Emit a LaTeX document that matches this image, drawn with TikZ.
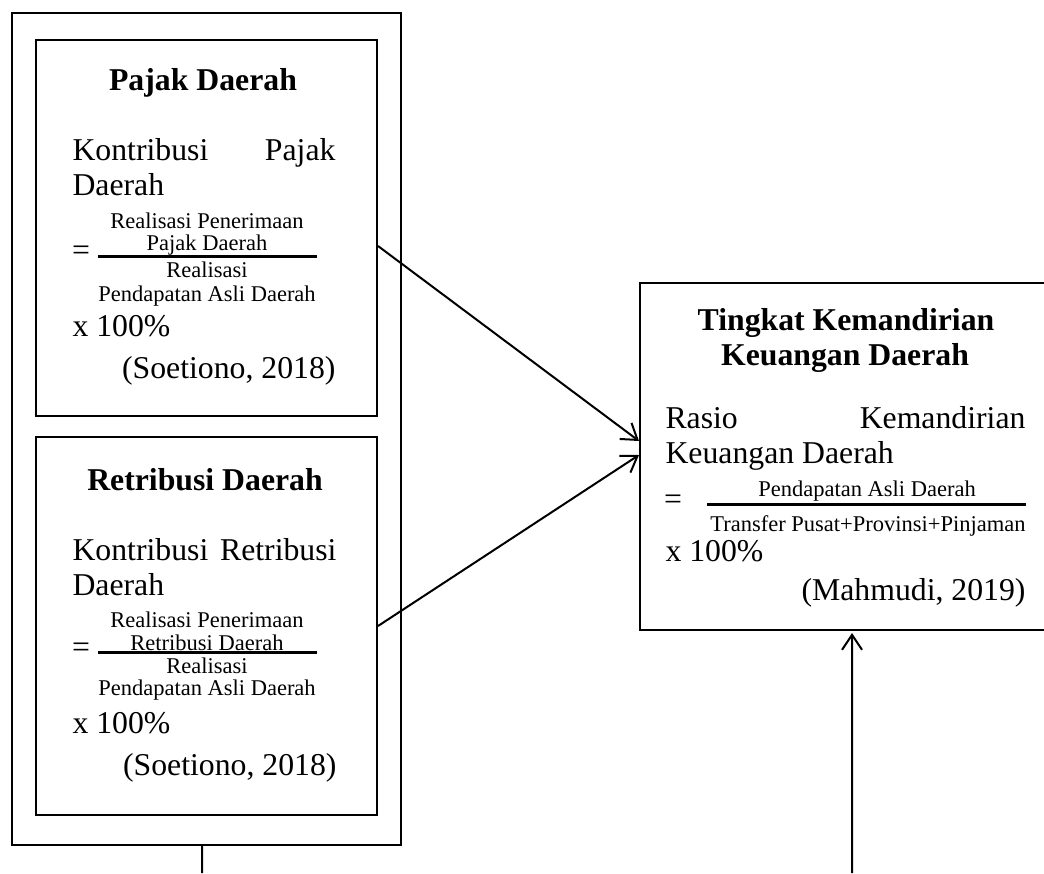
\documentclass[tikz,border=0pt]{standalone}
\usepackage{fontspec}
\setmainfont{Liberation Serif}
\usetikzlibrary{arrows.meta}
\begin{document}
\begin{tikzpicture}[x=0.4pt,y=-0.4pt,
  box/.style={draw,line width=0.8pt,inner sep=0pt},
  big/.style={font=\fontsize{12.7}{15}\selectfont,inner sep=0pt,text height=0.68em,text depth=0pt},
  ttl/.style={font=\fontsize{12.7}{15}\selectfont\bfseries,inner sep=0pt,text height=0.68em,text depth=0pt},
  sm/.style={font=\fontsize{9}{10}\selectfont,inner sep=0pt,text height=0.68em,text depth=0pt},
  bar/.style={line width=1.2pt},
  conn/.style={line width=0.8pt,-{Straight Barb[length=6pt,width=8pt,line width=0.8pt]}},
  plain/.style={line width=0.8pt}]
\useasboundingbox (0,0) rectangle (1044,873);

% boxes
\node[box,minimum width=155.6pt,minimum height=332.8pt] (outer) at (206.5,429) {};
\node[box,minimum width=136.4pt,minimum height=150.4pt] (pajak) at (206.5,228) {};
\node[box,minimum width=136.4pt,minimum height=151.2pt] (retri) at (206.5,626) {};
\node[box,minimum width=162pt,minimum height=138.8pt] (kd) at (842.5,456.5) {};

% Pajak Daerah
\node[ttl] (p1) at (203,82) {Pajak Daerah};
\node[big,anchor=west] (p2) at (72,152) {Kontribusi};
\node[big,anchor=east] (p3) at (336,152) {Pajak};
\node[big,anchor=west] (p4) at (72,187) {Daerah};
\node[sm] (p5) at (207,220) {Realisasi Penerimaan};
\node[sm] (p6) at (207,242) {Pajak Daerah};
\coordinate (pb1) at (98,256); \coordinate (pb2) at (317,256);
\draw[bar] (pb1) -- (pb2);
\node[big] (p7) at (81,252) {=};
\node[sm] (p8) at (207,269) {Realisasi};
\node[sm] (p9) at (207,293) {Pendapatan Asli Daerah};
\node[big,anchor=west] (p10) at (72,328) {x 100\%};
\node[big,anchor=east] (p11) at (336,370) {(Soetiono, 2018)};

% Retribusi Daerah
\node[ttl] (r1) at (205,482) {Retribusi Daerah};
\node[big,anchor=west] (r2) at (72,552) {Kontribusi};
\node[big,anchor=east] (r3) at (337,552) {Retribusi};
\node[big,anchor=west] (r4) at (72,587) {Daerah};
\node[sm] (r5) at (207,619) {Realisasi Penerimaan};
\node[sm] (r6) at (207,642) {Retribusi Daerah};
\coordinate (rb1) at (98,652); \coordinate (rb2) at (317,652);
\draw[bar] (rb1) -- (rb2);
\node[big] (r7) at (81,649) {=};
\node[sm] (r8) at (207,665) {Realisasi};
\node[sm] (r9) at (207,687) {Pendapatan Asli Daerah};
\node[big,anchor=west] (r10) at (72,725) {x 100\%};
\node[big,anchor=east] (r11) at (337,767) {(Soetiono, 2018)};

% Tingkat Kemandirian
\node[ttl] (k1) at (846,322) {Tingkat Kemandirian};
\node[ttl] (k2) at (845,357) {Keuangan Daerah};
\node[big,anchor=west] (k3) at (665,420) {Rasio};
\node[big,anchor=east] (k4) at (1026,420) {Kemandirian};
\node[big,anchor=west] (k5) at (665,455) {Keuangan Daerah};
\node[sm] (k6) at (867,488) {Pendapatan Asli Daerah};
\coordinate (kb1) at (707,504); \coordinate (kb2) at (1026,504);
\draw[bar] (kb1) -- (kb2);
\node[big] (k7) at (673,501) {=};
\node[sm,anchor=east] (k8) at (1026,523) {Transfer Pusat+Provinsi+Pinjaman};
\node[big,anchor=west] (k9) at (665,553) {x 100\%};
\node[big,anchor=east] (k10) at (1026,592) {(Mahmudi, 2019)};

% connectors
\draw[conn] ([yshift=-7.2pt]pajak.east) -- ([yshift=6.2pt]kd.west);
\draw[conn] (retri.east) -- ([yshift=0.6pt]kd.west);
\coordinate (b1) at (202,873);
\draw[plain] ([xshift=-1.8pt]outer.south) -- (b1);
\coordinate (b2) at (852,873);
\draw[conn] (b2) -- ([xshift=3.8pt,yshift=-0.8pt]kd.south);
\end{tikzpicture}
\end{document}
